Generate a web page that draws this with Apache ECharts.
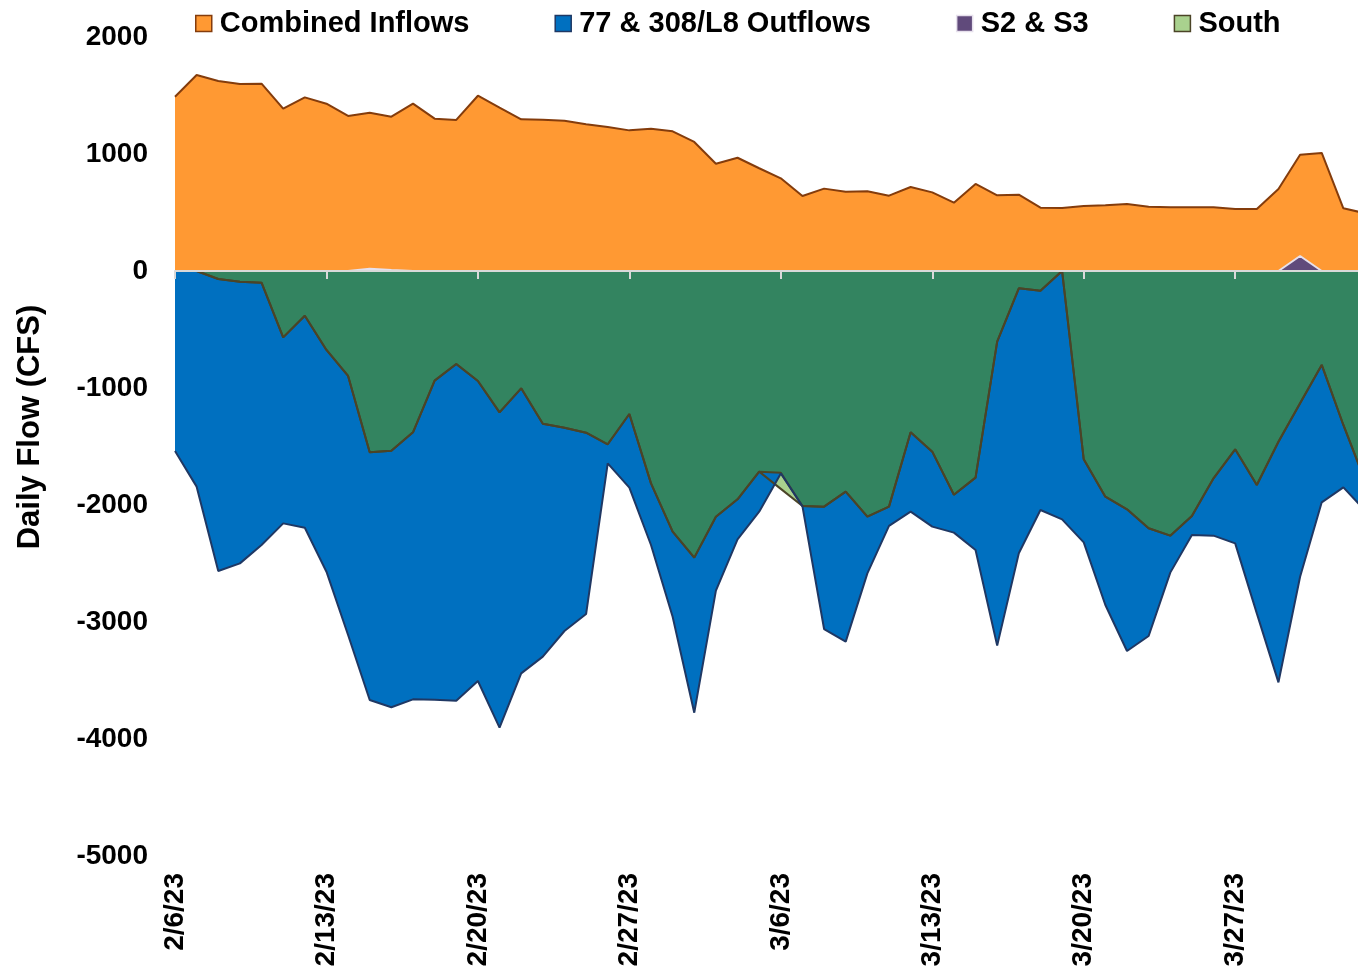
<!DOCTYPE html>
<html>
<head>
<meta charset="utf-8">
<title>Daily Flow</title>
<script src="https://cdn.jsdelivr.net/npm/echarts@6/dist/echarts.min.js"></script>
<style>
    html, body { margin: 0; padding: 0; background: #ffffff; }
    #main { width: 1358px; height: 974px; }
</style>
</head>
<body>
<div id="main"></div>
<script>
// dates on the category axis (2/6/23 .. 4/2/23, last one is cut by the right edge)
var dates = [
    '2/6/23','2/7/23','2/8/23','2/9/23','2/10/23','2/11/23','2/12/23',
    '2/13/23','2/14/23','2/15/23','2/16/23','2/17/23','2/18/23','2/19/23',
    '2/20/23','2/21/23','2/22/23','2/23/23','2/24/23','2/25/23','2/26/23',
    '2/27/23','2/28/23','3/1/23','3/2/23','3/3/23','3/4/23','3/5/23',
    '3/6/23','3/7/23','3/8/23','3/9/23','3/10/23','3/11/23','3/12/23',
    '3/13/23','3/14/23','3/15/23','3/16/23','3/17/23','3/18/23','3/19/23',
    '3/20/23','3/21/23','3/22/23','3/23/23','3/24/23','3/25/23','3/26/23',
    '3/27/23','3/28/23','3/29/23','3/30/23','3/31/23','4/1/23','4/2/23'
];

// Combined Inflows (positive)
var inflows = [
    1490, 1675, 1624, 1598, 1601, 1387, 1484, 1430, 1325, 1353,
    1319, 1430, 1302, 1291, 1498, 1396, 1296, 1293, 1285, 1254,
    1231, 1202, 1216, 1194, 1103, 917, 968, 878, 792, 641,
    704, 678, 681, 644, 718, 672, 584, 744, 647, 652,
    541, 538, 556, 562, 573, 550, 544, 544, 544, 530,
    530, 701, 994, 1009, 536, 494
];

// total outflow = lower edge of the blue area
var outflows = [
    -1538, -1843, -2564, -2499, -2342, -2157, -2194, -2570, -3111, -3667,
    -3729, -3661, -3664, -3673, -3504, -3903, -3439, -3296, -3077, -2932,
    -1644, -1852, -2342, -2955, -3775, -2732, -2293, -2057, -1730, -2012,
    -3060, -3168, -2584, -2179, -2057, -2185, -2236, -2385, -3202, -2413,
    -2043, -2123, -2319, -2855, -3248, -3120, -2578, -2256, -2262, -2328,
    -2926, -3516, -2613, -1977, -1849, -2048
];

// green area next to the zero line (no legend entry)
var otherOut = [
    0, 0, -68, -91, -100, -567, -382, -675, -897, -1550,
    -1536, -1379, -937, -795, -940, -1208, -1003, -1305, -1339, -1382,
    -1481, -1222, -1815, -2228, -2450, -2100, -1951, -1715, -1862, -2009,
    -2014, -1886, -2100, -2014, -1379, -1544, -1912, -1766, -604, -148,
    -168, 0, -1609, -1929, -2037, -2199, -2262, -2094, -1772, -1524,
    -1829, -1459, -1131, -803, -1316, -1793
];

// South (stacked on the green area)
var south = [
    0, 0, 0, 0, 0, 0, 0, 0, 0, 0,
    0, 0, 0, 0, 0, 0, 0, 0, 0, 0,
    0, 0, 0, 0, 0, 0, 0, 0, 138, 0,
    0, 0, 0, 0, 0, 0, 0, 0, 0, 0,
    0, 0, 0, 0, 0, 0, 0, 0, 0, 0,
    0, 0, 0, 0, 0, 0
];

// S2 & S3
var s2s3 = [
    0, 0, 0, 0, 0, 0, 0, 0, 0, 20,
    8, 0, 0, 0, 0, 0, 0, 0, 0, 0,
    0, 0, 0, 0, 0, 0, 0, 0, 0, 0,
    0, 0, 0, 0, 0, 0, 0, 0, 0, 0,
    0, 0, 0, 0, 0, 0, 0, 0, 0, 0,
    0, 0, 128, 0, 0, 0
];

var yTicks = { min: -5000, max: 2000, step: 1000 };

var FONT = '"Liberation Sans", Arial, sans-serif';

document.addEventListener('DOMContentLoaded', function() {
    var chart = echarts.init(document.getElementById('main'));

    // blue part of the stack: whatever is left between south/green and the total
    var bluePart = outflows.map(function(v, i) {
        return v - otherOut[i] - south[i];
    });

    // one area series, no symbols
    function area(name, data, fill, line, extra) {
        var s = {
            name: name,
            type: 'line',
            data: data,
            symbol: 'none',
            showSymbol: false,
            lineStyle: { color: line, width: 2 },
            areaStyle: { color: fill, opacity: 1 },
            itemStyle: { color: fill },
            emphasis: { disabled: true }
        };
        for (var k in (extra || {})) s[k] = extra[k];
        return s;
    }

    var stackNeg = { stack: 'out', stackStrategy: 'all' };

    var option = {
        animation: false,
        backgroundColor: '#ffffff',
        // last day runs a little past the right edge, like the original crop
        grid: { left: 175, width: 1190, top: 37, bottom: 118, outerBoundsMode: 'none' },
        legend: {
            left: 195,
            top: 9,
            padding: 0,
            itemWidth: 16,
            itemHeight: 16,
            itemGap: 85,
            icon: 'rect',
            textStyle: {
                fontSize: 29, fontWeight: 'bold', fontFamily: FONT,
                color: '#000', padding: [0, 0, 0, 3]
            },
            data: [
                { name: 'Combined Inflows', itemStyle: { color: '#FF9933', borderColor: '#843C0C', borderWidth: 1.5 } },
                { name: '77 & 308/L8 Outflows', itemStyle: { color: '#0070C0', borderColor: '#1F3864', borderWidth: 1.5 } },
                { name: 'S2 & S3', itemStyle: { color: '#604A7B', borderColor: '#E6E0EC', borderWidth: 1.5 } },
                { name: 'South', itemStyle: { color: '#A9D18E', borderColor: '#4B4427', borderWidth: 1.5 } }
            ]
        },
        graphic: [{
            type: 'text',
            x: 30,
            y: 427,
            rotation: Math.PI / 2,
            style: {
                text: 'Daily Flow (CFS)',
                fontSize: 31,
                fontWeight: 'bold',
                fontFamily: FONT,
                fill: '#000',
                align: 'center',
                verticalAlign: 'middle'
            }
        }],
        xAxis: [{
            // zero line with weekly ticks
            type: 'category',
            data: dates,
            boundaryGap: false,
            position: 'bottom',
            z: 10,
            axisLine: { onZero: true, lineStyle: { color: '#D9D9D9', width: 2 } },
            axisTick: { show: true, interval: 6, length: 8, lineStyle: { color: '#D9D9D9', width: 2 } },
            axisLabel: { show: false },
            splitLine: { show: false }
        }, {
            // date labels at the bottom
            type: 'category',
            data: dates,
            boundaryGap: false,
            position: 'bottom',
            axisLine: { show: false, onZero: false },
            axisTick: { show: false },
            axisLabel: {
                interval: 6,
                rotate: 90,
                margin: 17,
                fontSize: 28,
                fontWeight: 'bold',
                fontFamily: FONT,
                color: '#000'
            },
            splitLine: { show: false }
        }],
        yAxis: {
            type: 'value',
            min: yTicks.min,
            max: yTicks.max,
            interval: yTicks.step,
            axisLine: { show: false },
            axisTick: { show: false },
            splitLine: { show: false },
            axisLabel: {
                margin: 27,
                fontSize: 28,
                fontWeight: 'bold',
                fontFamily: FONT,
                color: '#000',
                formatter: function(v) { return String(v); }
            }
        },
        series: [
            area('Other Outflows', otherOut, '#338460', '#4B4427', stackNeg),
            area('South', south, '#A9D18E', '#4B4427', stackNeg),
            area('77 & 308/L8 Outflows', bluePart, '#0070C0', '#1F3864', stackNeg),
            area('Combined Inflows', inflows, '#FF9933', '#843C0C'),
            area('S2 & S3', s2s3, '#604A7B', '#E6E0EC')
        ]
    };

    chart.setOption(option);
});
</script>
</body>
</html>
